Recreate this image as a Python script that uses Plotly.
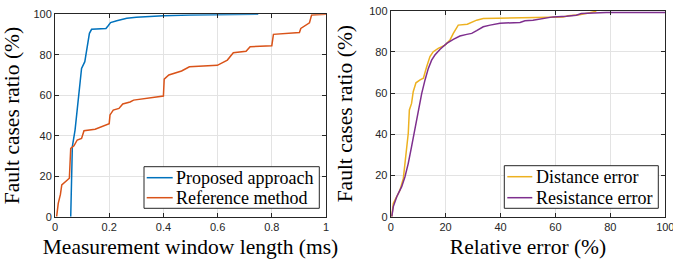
import plotly.graph_objects as go

# Left panel: measurement window length (ms) vs fault cases ratio (%)
proposed_x = [0.058, 0.064, 0.074, 0.086, 0.098, 0.110, 0.118, 0.127, 0.135, 0.188, 0.197, 0.205, 0.228, 0.265, 0.30, 0.40, 0.50, 0.60, 0.75]
proposed_y = [0.0, 34.6, 42.8, 59.3, 73.3, 76.6, 84.0, 90.6, 92.6, 93.0, 94.5, 95.9, 96.8, 98.0, 98.5, 99.3, 99.6, 99.9, 100.0]

reference_x = [0.006, 0.012, 0.020, 0.025, 0.053, 0.058, 0.070, 0.082, 0.098, 0.107, 0.148, 0.200, 0.203, 0.215, 0.236, 0.250, 0.277, 0.290, 0.400, 0.403, 0.420, 0.467, 0.496, 0.599, 0.636, 0.658, 0.705, 0.720, 0.800, 0.806, 0.902, 0.907, 0.939, 0.947, 1.0]
reference_y = [0.0, 6.6, 11.0, 15.7, 19.0, 33.8, 35.0, 37.9, 38.7, 42.5, 43.2, 46.0, 50.3, 52.7, 53.5, 55.7, 56.7, 57.6, 59.6, 68.0, 70.0, 72.0, 74.1, 74.8, 77.4, 81.0, 81.7, 84.0, 84.5, 90.1, 91.0, 93.0, 95.8, 99.7, 100.0]

# Right panel: relative error (%) vs fault cases ratio (%)
distance_x = [0.4, 0.95, 2.2, 3.4, 4.6, 5.6, 6.4, 6.8, 7.6, 8.2, 9.2, 10.7, 11.9, 13.1, 14.3, 15.5, 17.3, 19.8, 21.6, 22.8, 24.6, 27.9, 29.5, 31.3, 33.7, 40.0, 50.0, 62.8, 64.6, 68.8, 72.5, 74.9]
distance_y = [0.0, 6.5, 9.7, 13.0, 18.6, 30.8, 40.5, 51.8, 55.0, 60.7, 65.0, 66.4, 67.2, 72.8, 77.7, 80.1, 81.7, 83.3, 85.8, 89.0, 93.0, 93.4, 94.3, 95.4, 96.2, 96.4, 96.6, 97.0, 97.5, 98.0, 99.0, 99.8]

resistance_x = [0.4, 0.95, 2.2, 4.0, 5.2, 6.4, 7.6, 8.8, 10.0, 11.3, 12.5, 13.7, 14.9, 16.1, 18.0, 20.4, 22.8, 25.2, 27.7, 29.5, 31.3, 33.7, 36.2, 39.8, 47.1, 48.9, 51.8, 55.5, 59.1, 64.0, 67.6, 69.4, 73.7, 78.5, 100.0]
resistance_y = [0.0, 4.9, 9.7, 14.6, 19.4, 25.9, 34.0, 42.0, 51.8, 59.9, 66.4, 72.0, 76.0, 78.5, 81.3, 84.1, 86.1, 87.7, 88.5, 89.0, 90.3, 92.2, 93.0, 93.9, 94.3, 95.1, 95.4, 96.2, 97.0, 97.3, 97.8, 98.6, 98.9, 99.1, 99.1]

left_names = ["Proposed approach", "Reference method"]
right_names = ["Distance error", "Resistance error"]

left_xticks = [0, 0.2, 0.4, 0.6, 0.8, 1]
left_xticklabels = ["0", "0.2", "0.4", "0.6", "0.8", "1"]
right_xticks = [0, 20, 40, 60, 80, 100]
yticks = [0, 20, 40, 60, 80, 100]

BLUE = "#0072BD"
ORANGE = "#D95319"
YELLOW = "#EDB120"
PURPLE = "#7E2F8E"
AX = "#262626"
GRID = "#e3e3e3"
SERIF = "Liberation Serif"
SANS = "Liberation Sans"

# Page body margin is removed in post_script, so lay out in window pixels directly.
W, H = 673, 263

def px(x):
    return x / W

def py(y):
    return (H - y) / H

fig = go.Figure()
fig.add_trace(go.Scatter(x=proposed_x, y=proposed_y, mode="lines", name=left_names[0],
                         line=dict(color=BLUE, width=1.5), xaxis="x", yaxis="y"))
fig.add_trace(go.Scatter(x=reference_x, y=reference_y, mode="lines", name=left_names[1],
                         line=dict(color=ORANGE, width=1.5), xaxis="x", yaxis="y"))
fig.add_trace(go.Scatter(x=distance_x, y=distance_y, mode="lines", name=right_names[0],
                         line=dict(color=YELLOW, width=1.5), xaxis="x2", yaxis="y2"))
fig.add_trace(go.Scatter(x=resistance_x, y=resistance_y, mode="lines", name=right_names[1],
                         line=dict(color=PURPLE, width=1.5), xaxis="x2", yaxis="y2"))

common_axis = dict(showline=True, linecolor=AX, linewidth=1, mirror="ticks", ticks="inside",
                   ticklen=4, tickcolor=AX, showgrid=True, gridcolor=GRID, gridwidth=1,
                   zeroline=False, automargin=False, ticklabeloverflow="allow",
                   tickfont=dict(family=SANS, size=11, color=AX))
title_font = dict(family=SERIF, size=21.5, color="#000000")

# Manual legends (box, line samples, labels) in window pixel coordinates
shapes = []
annotations = []

def add_legend(box, line_x0, line_x1, rows, text_x, names, colors):
    bx0, by0, bx1, by1 = box
    shapes.append(dict(type="rect", xref="paper", yref="paper",
                       x0=px(bx0), x1=px(bx1), y0=py(by1), y1=py(by0),
                       line=dict(color=AX, width=1), fillcolor="white", layer="above"))
    for ry, name, col in zip(rows, names, colors):
        shapes.append(dict(type="line", xref="paper", yref="paper",
                           x0=px(line_x0), x1=px(line_x1), y0=py(ry), y1=py(ry),
                           line=dict(color=col, width=1.5), layer="above"))
        annotations.append(dict(xref="paper", yref="paper", x=px(text_x), y=py(ry),
                                xanchor="left", yanchor="middle", showarrow=False,
                                text=name, font=dict(family=SERIF, size=18, color="#000000")))

add_legend((144, 166.7, 319.3, 208.3), 146.7, 172.7, [177.7, 197.7], 174, left_names, [BLUE, ORANGE])
add_legend((504.3, 165.7, 658.3, 208.3), 507.3, 532.3, [176.7, 197.7], 534, right_names, [YELLOW, PURPLE])

fig.update_layout(
    template="none",
    width=W, height=H, margin=dict(l=0, r=0, t=0, b=0),
    paper_bgcolor="white", plot_bgcolor="white",
    showlegend=False,
    xaxis=dict(domain=[px(55), px(326)], range=[0, 1], tickvals=left_xticks, ticktext=left_xticklabels,
               title=dict(text="Measurement window length (ms)", font=title_font, standoff=7),
               anchor="y", **common_axis),
    yaxis=dict(domain=[py(216.7), py(14.3)], range=[0, 100], tickvals=yticks,
               title=dict(text="Fault cases ratio (%)", font=title_font, standoff=8),
               anchor="x", **common_axis),
    xaxis2=dict(domain=[px(390.7), px(665.3)], range=[0, 100], tickvals=right_xticks,
                title=dict(text="Relative error (%)", font=title_font, standoff=7),
                anchor="y2", **common_axis),
    yaxis2=dict(domain=[py(216.7), py(10.7)], range=[0, 100], tickvals=yticks,
                title=dict(text="Fault cases ratio (%)", font=title_font, standoff=10),
                anchor="x2", **common_axis),
    shapes=shapes,
    annotations=annotations,
)

fig.write_html("out.html", config={"displayModeBar": False},
               post_script="document.body.style.margin='0';")
